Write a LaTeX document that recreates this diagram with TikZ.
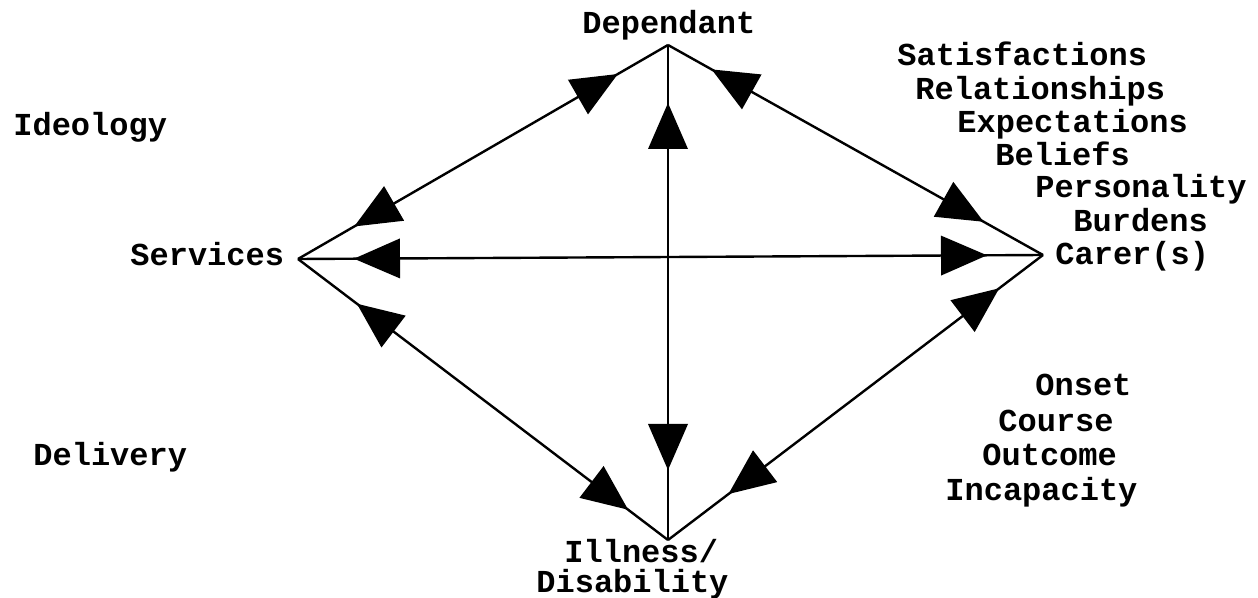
\documentclass[tikz,border=0pt]{standalone}
\usepackage{fontspec}
\setmonofont{Liberation Mono}
\usetikzlibrary{decorations.markings}
\tikzset{
  lbl/.style={inner sep=0pt, anchor=base west, font=\fontsize{16}{16}\selectfont\ttfamily\bfseries},
  edge/.style={line width=1.2pt},
  headB/.style={postaction={decorate, decoration={markings, mark=at position #1 with {\fill[line join=round] (0,0)--(23pt,10pt)--(23pt,-10pt)--cycle;}}}},
  headE/.style={postaction={decorate, decoration={markings, mark=at position -#1 with {\fill[line join=round] (0,0)--(-23pt,10pt)--(-23pt,-10pt)--cycle;}}}},
}
\begin{document}
\begin{tikzpicture}[x=0.5pt, y=-0.5pt]
\useasboundingbox (0,0) rectangle (1258,598);
% vertices
\coordinate (vD) at (668,45);
\coordinate (vS) at (298,259);
\coordinate (vC) at (1043,255);
\coordinate (vI) at (668,540);
% labels
\node[lbl] (dep) at (582,34) {Dependant};
\node[lbl] (ideo) at (13,136) {Ideology};
\node[lbl] (serv) at (130,266) {Services};
\node[lbl] (deliv) at (33,466) {Delivery};
\node[lbl] (ill) at (564,562) {Illness/};
\node[lbl] (dis) at (536,592) {Disability};
\node[lbl] (sat) at (897,66) {Satisfactions};
\node[lbl] (rel) at (915,100) {Relationships};
\node[lbl] (exp) at (957,133) {Expectations};
\node[lbl] (bel) at (995,166) {Beliefs};
\node[lbl] (pers) at (1035,198) {Personality};
\node[lbl] (burd) at (1073,232) {Burdens};
\node[lbl] (carer) at (1055,265) {Carer(s)};
\node[lbl] (ons) at (1035,396) {Onset};
\node[lbl] (cour) at (998,431) {Course};
\node[lbl] (outc) at (982,466) {Outcome};
\node[lbl] (inc) at (945,501) {Incapacity};
% connectors
\draw[edge, headB=29pt, headE=32.5pt] (vD) -- (vS);
\draw[edge, headB=25pt, headE=34pt] (vD) -- (vC);
\draw[edge, headB=37pt, headE=25pt] (vS) -- (vI);
\draw[edge, headB=38pt, headE=27.5pt] (vI) -- (vC);
\draw[edge, line width=0.9pt, headB=29pt, headE=35pt] (vD) -- (vI);
\draw[edge, headB=28pt, headE=28pt] (vS) -- (vC);
\end{tikzpicture}
\end{document}
